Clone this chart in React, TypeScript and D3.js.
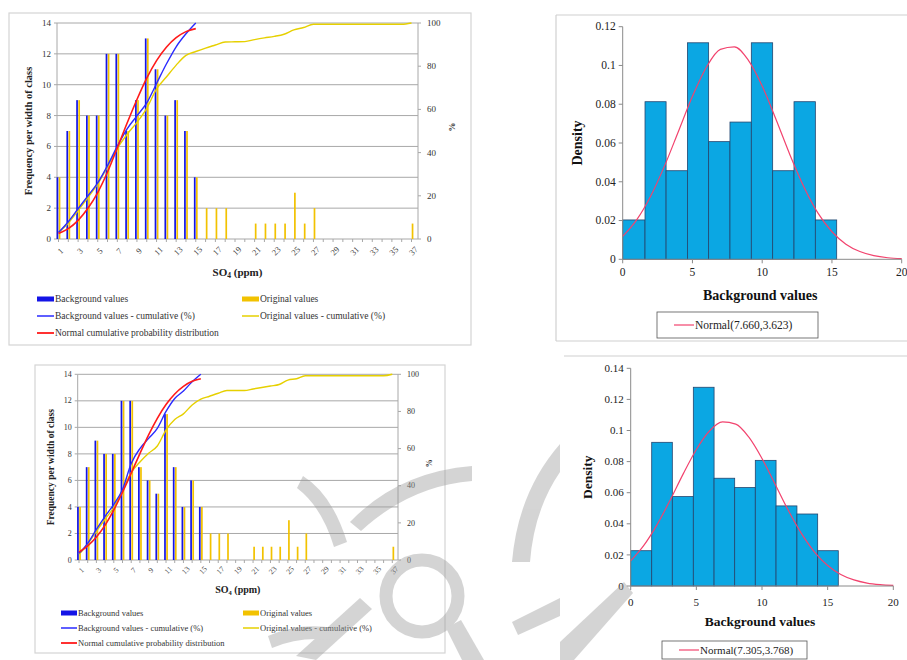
import React from "react";
import * as d3 from "d3";

// ---------- DATA ----------
const soCategories = [1,2,3,4,5,6,7,8,9,10,11,12,13,14,15,16,17,18,19,20,21,22,23,24,25,26,27,28,29,30,31,32,33,34,35,36,37];
const soTickLabels = ["1","3","5","7","9","11","13","15","17","19","21","23","25","27","29","31","33","35","37"];
const freqTicks = [0,2,4,6,8,10,12,14];
const pctTicks = [0,20,40,60,80,100];

// top combo chart
const bgCountsTop = [4,7,9,8,8,12,12,7,9,13,11,8,9,7,4];
const origCountsTop = [4,7,9,8,8,12,12,7,9,13,11,8,9,7,4,2,2,2,0,0,1,1,1,1,3,1,2,0,0,0,0,0,0,0,0,0,1];
const bgCumTop = [3,8,14,20,26,34,43,51,57,63,72,81,89,95,100];
const origCumTop = [3,7.4,13.2,19.2,25.5,33.5,42,48.5,54,60.5,69.5,75,80.5,85,86.8,88.4,89.8,91.2,91.3,91.4,92.3,93.1,93.8,94.8,96.8,97.9,99.4,99.4,99.4,99.4,99.4,99.4,99.4,99.4,99.4,99.4,100];
const normCumTop = [2.6,4.8,8.6,14.2,21.5,31,42.2,53.7,64.6,74.5,82.6,88.8,93.2,96.0,97.4];

// bottom combo chart
const bgCountsBottom = [4,7,9,8,8,12,12,7,6,5,11,7,4,6,4];
const origCountsBottom = [4,7,9,8,8,12,12,7,6,5,11,7,4,6,4,2,2,2,0,0,1,1,1,1,3,1,2,0,0,0,0,0,0,0,0,0,1];
const bgCumBottom = [3.6,9,16.5,23.5,30,38,52,60,65.5,70.9,80,87,91,96,100];
const origCumBottom = [3.1,8.5,15.5,22,28.3,37.5,47,52.8,57.5,61.4,70,75.6,78.7,83.5,86.6,88.2,89.8,91.3,91.3,91.3,92.1,92.9,93.7,94.5,96.9,97.6,99.2,99.2,99.2,99.2,99.2,99.2,99.2,99.2,99.2,99.2,100];
const normCumBottom = [4.2,7.6,12.4,18.8,27.0,36.5,46.8,57.3,67.4,76.3,83.7,89.4,93.5,96.2,97.6];

// histograms
const densityXTicks = [0,5,10,15,20];
const binEdgesTop = [0,1.6,3.11,4.64,6.16,7.69,9.22,10.75,12.28,13.81,15.34];
const densityTop = [0.0203,0.0813,0.0457,0.1117,0.0607,0.0708,0.1117,0.0457,0.0813,0.0203];
const densityTicksTop = [0,0.02,0.04,0.06,0.08,0.1,0.12];
const curveX = [0,1,2,3,4,5,6,7,8,9,10,11,12,13,14,15,16,17,18,19,20];
const normalPdfTop = [0.0118,0.0203,0.0325,0.0482,0.0661,0.0841,0.0991,0.1083,0.1096,0.1028,0.0894,0.0720,0.0537,0.0372,0.0238,0.0142,0.0078,0.0040,0.0019,0.0008,0.0003];
const binEdgesBottom = [0,1.6,3.17,4.77,6.35,7.92,9.49,11.07,12.66,14.24,15.81];
const densityBottom = [0.0227,0.0924,0.0575,0.1278,0.0693,0.0633,0.0808,0.0515,0.0463,0.0227];
const densityTicksBottom = [0,0.02,0.04,0.06,0.08,0.1,0.12,0.14];
const normalPdfBottom = [0.0162,0.0261,0.0393,0.0551,0.0721,0.0878,0.0997,0.1055,0.1041,0.0957,0.0820,0.0655,0.0487,0.0338,0.0218,0.0132,0.0074,0.0039,0.0019,0.0009,0.0004];

const SERIF = "Liberation Serif, Times New Roman, serif";
const BLUE_BAR = "#1414e6";
const GOLD_BAR = "#f2c200";
const BLUE_LINE = "#2a2aff";
const YELLOW_LINE = "#e6d000";
const RED_LINE = "#ff1a1a";
const GRID = "#a8a8a8";
const HIST_FILL = "#0ba7e3";
const HIST_EDGE = "#24456e";
const PDF_LINE = "#f2436e";

type ComboProps = {
  x0: number; x1: number; yT: number; yB: number; c1: number; c37: number;
  bg: number[]; orig: number[]; bgCum: number[]; origCum: number[]; normCum: number[];
  fs: number; titleFs: number; legendFs: number;
  yTitleX: number; pctX: number; xTitleY: number;
  legendRows: number[]; legendCol1: number; legendCol2: number; swW: number;
  frame: [number, number, number, number];
  xLabY: number;
};

function ComboPanel(p: ComboProps) {
  const x = d3.scalePoint<number>().domain(soCategories).range([p.c1, p.c37]);
  const y = d3.scaleLinear().domain([0, 14]).range([p.yB, p.yT]);
  const yp = d3.scaleLinear().domain([0, 100]).range([p.yB, p.yT]);
  const bw = 1.7;
  const line = d3.line<number>().x((_, i) => x(soCategories[i]) as number).y(d => yp(d)).curve(d3.curveMonotoneX);
  const midY = (p.yT + p.yB) / 2;
  const [fx, fy, fw, fh] = p.frame;
  return (
    <g>
      <rect x={fx} y={fy} width={fw} height={fh} fill="#fff" stroke="#d4d4d4" strokeWidth={1.2} />
      {freqTicks.map(t => (
        <g key={"g" + t}>
          <line x1={p.x0} x2={p.x1} y1={y(t)} y2={y(t)} stroke={GRID} strokeWidth={1} />
          <line x1={p.x0 - 3} x2={p.x0} y1={y(t)} y2={y(t)} stroke={GRID} />
          <text x={p.x0 - 6} y={y(t)} dy="0.33em" textAnchor="end" fontSize={p.fs} fill="#333">{t}</text>
        </g>
      ))}
      <line x1={p.x0} x2={p.x0} y1={p.yT} y2={p.yB} stroke={GRID} />
      <line x1={p.x1} x2={p.x1} y1={p.yT} y2={p.yB} stroke={GRID} />
      {pctTicks.map(t => (
        <g key={"p" + t}>
          <line x1={p.x1} x2={p.x1 + 3} y1={yp(t)} y2={yp(t)} stroke={GRID} />
          <text x={p.x1 + 9} y={yp(t)} dy="0.33em" textAnchor="start" fontSize={p.fs} fill="#333">{t}</text>
        </g>
      ))}
      {soCategories.map(c => (
        <line key={"xt" + c} x1={x(c)} x2={x(c)} y1={p.yB} y2={p.yB + 3} stroke={GRID} />
      ))}
      {p.orig.map((v, i) => v > 0 ? (
        <rect key={"o" + i} x={(x(soCategories[i]) as number) + 0.2} y={y(v)} width={bw} height={p.yB - y(v)} fill={GOLD_BAR} />
      ) : null)}
      {p.bg.map((v, i) => (
        <rect key={"b" + i} x={(x(soCategories[i]) as number) - bw - 0.2} y={y(v)} width={bw} height={p.yB - y(v)} fill={BLUE_BAR} />
      ))}
      <path d={line(p.origCum) || ""} fill="none" stroke={YELLOW_LINE} strokeWidth={1.4} />
      <path d={line(p.bgCum) || ""} fill="none" stroke={BLUE_LINE} strokeWidth={1.4} />
      <path d={line(p.normCum) || ""} fill="none" stroke={RED_LINE} strokeWidth={1.6} />
      {soTickLabels.map(l => {
        const cx = (x(+l) as number) + 4;
        return (
          <text key={"xl" + l} x={cx} y={p.xLabY} textAnchor="middle" fontSize={p.fs - 0.5} fill="#444"
            transform={`rotate(-45 ${cx} ${p.xLabY})`}>{l}</text>
        );
      })}
      <text x={p.yTitleX} y={midY} textAnchor="middle" fontSize={p.titleFs} fontWeight="bold" fill="#222"
        transform={`rotate(-90 ${p.yTitleX} ${midY})`}>Frequency per width of class</text>
      <text x={p.pctX} y={midY - 4} textAnchor="middle" fontSize={p.fs} fontWeight="bold" fill="#333"
        transform={`rotate(90 ${p.pctX} ${midY - 4})`}>%</text>
      <text x={(p.x0 + p.x1) / 2 + 0} y={p.xTitleY} textAnchor="middle" fontSize={p.titleFs + 0.5} fontWeight="bold" fill="#222">
        SO<tspan fontSize={p.titleFs - 3} dy="2">4</tspan><tspan dy="-2"> (ppm)</tspan>
      </text>
      {/* legend */}
      <rect x={p.legendCol1} y={p.legendRows[0] - 2.5} width={p.swW} height={5} fill={BLUE_BAR} />
      <text x={p.legendCol1 + p.swW + 1} y={p.legendRows[0]} dy="0.33em" fontSize={p.legendFs} fill="#333">Background values</text>
      <rect x={p.legendCol2} y={p.legendRows[0] - 2.5} width={p.swW} height={5} fill={GOLD_BAR} />
      <text x={p.legendCol2 + p.swW + 1} y={p.legendRows[0]} dy="0.33em" fontSize={p.legendFs} fill="#333">Original values</text>
      <line x1={p.legendCol1} x2={p.legendCol1 + p.swW} y1={p.legendRows[1]} y2={p.legendRows[1]} stroke={BLUE_LINE} strokeWidth={1.5} />
      <text x={p.legendCol1 + p.swW + 1} y={p.legendRows[1]} dy="0.33em" fontSize={p.legendFs} fill="#333">Background values - cumulative (%)</text>
      <line x1={p.legendCol2} x2={p.legendCol2 + p.swW} y1={p.legendRows[1]} y2={p.legendRows[1]} stroke={YELLOW_LINE} strokeWidth={1.5} />
      <text x={p.legendCol2 + p.swW + 1} y={p.legendRows[1]} dy="0.33em" fontSize={p.legendFs} fill="#333">Original values - cumulative (%)</text>
      <line x1={p.legendCol1} x2={p.legendCol1 + p.swW} y1={p.legendRows[2]} y2={p.legendRows[2]} stroke={RED_LINE} strokeWidth={1.8} />
      <text x={p.legendCol1 + p.swW + 1} y={p.legendRows[2]} dy="0.33em" fontSize={p.legendFs} fill="#333">Normal cumulative probability distribution</text>
    </g>
  );
}

type HistProps = {
  x0: number; x1: number; yT: number; yB: number; yMax: number; yTicks: number[];
  edges: number[]; dens: number[]; pdf: number[]; label: string;
  fs: number; titleFs: number; yTitleX: number; xTitleY: number; xLabY: number;
  legend: [number, number, number, number];
};

function HistPanel(p: HistProps) {
  const x = d3.scaleLinear().domain([0, 20]).range([p.x0, p.x1]);
  const y = d3.scaleLinear().domain([0, p.yMax]).range([p.yB, p.yT]);
  const line = d3.line<number>().x((_, i) => x(curveX[i])).y(d => y(d)).curve(d3.curveMonotoneX);
  const midY = (p.yT + p.yB) / 2;
  const [lx, ly, lw, lh] = p.legend;
  return (
    <g>
      {p.dens.map((d, i) => (
        <rect key={"h" + i} x={x(p.edges[i])} y={y(d)} width={x(p.edges[i + 1]) - x(p.edges[i])} height={p.yB - y(d)}
          fill={HIST_FILL} stroke={HIST_EDGE} strokeWidth={0.8} />
      ))}
      <path d={line(p.pdf) || ""} fill="none" stroke={PDF_LINE} strokeWidth={1.2} />
      <line x1={p.x0} x2={p.x0} y1={p.yT} y2={p.yB} stroke="#8a8a8a" />
      <line x1={p.x0} x2={p.x1} y1={p.yB} y2={p.yB} stroke="#8a8a8a" />
      {p.yTicks.map(t => (
        <g key={"yt" + t}>
          <line x1={p.x0 - 4} x2={p.x0} y1={y(t)} y2={y(t)} stroke="#8a8a8a" />
          <text x={p.x0 - 7} y={y(t)} dy="0.33em" textAnchor="end" fontSize={p.fs} fill="#222">{String(t)}</text>
        </g>
      ))}
      {densityXTicks.map(t => (
        <g key={"xt" + t}>
          <line x1={x(t)} x2={x(t)} y1={p.yB} y2={p.yB + 4} stroke="#8a8a8a" />
          <text x={x(t)} y={p.xLabY} dy="0.33em" textAnchor="middle" fontSize={p.fs} fill="#222">{t}</text>
        </g>
      ))}
      <text x={p.yTitleX} y={midY} textAnchor="middle" fontSize={p.titleFs} fontWeight="bold" fill="#111"
        transform={`rotate(-90 ${p.yTitleX} ${midY})`}>Density</text>
      <text x={(p.x0 + p.x1) / 2 - 2} y={p.xTitleY} dy="0.33em" textAnchor="middle" fontSize={p.titleFs} fontWeight="bold" fill="#111">Background values</text>
      <rect x={lx} y={ly} width={lw} height={lh} fill="#fff" stroke="#555" strokeWidth={0.8} />
      <line x1={lx + 17} x2={lx + 37} y1={ly + lh / 2} y2={ly + lh / 2} stroke={PDF_LINE} strokeWidth={1.2} />
      <text x={lx + 38} y={ly + lh / 2} dy="0.33em" fontSize={p.fs} fill="#222">{p.label}</text>
    </g>
  );
}

function Watermark() {
  const c = "#9a9a9a";
  return (
    <g fill={c} opacity={0.42} stroke="none">
      <path d="M303,476 Q332,494 347,542 L334,547 Q322,507 297,488 Z" />
      <path d="M350,522 Q398,472 472,466 L472,481 Q410,486 361,531 Z" />
      <path d="M512,562 Q518,492 560,444 L560,472 Q534,510 530,562 Z" />
      <circle cx={422} cy={596} r={36} fill="none" stroke={c} strokeWidth={13} />
      <path d="M296,656 L360,598 L372,609 L316,660 Z" />
      <path d="M462,660 L446,628 L461,620 L484,660 Z" />
      <path d="M560,598 L512,622 L518,635 L560,616 Z" />
      <path d="M560,642 L624,582 L633,593 L574,660 L560,660 Z" />
      <path d="M268,636 Q300,622 334,628 L332,640 Q300,636 272,648 Z" />
    </g>
  );
}

export default function App() {
  return (
    <svg width={907} height={660} viewBox="0 0 907 660" style={{ position: "absolute", left: 0, top: 0, background: "#fff" }}
      fontFamily={SERIF}>
      <rect x={0} y={0} width={907} height={660} fill="#fff" />
      <line x1={556} x2={907} y1={15} y2={15} stroke="#d0d0d0" strokeWidth={1.2} />
      <line x1={556} x2={556} y1={15} y2={341} stroke="#d0d0d0" strokeWidth={1.2} />
      <line x1={556} x2={907} y1={341} y2={341} stroke="#d0d0d0" strokeWidth={1.2} />
      <line x1={564} x2={907} y1={356} y2={356} stroke="#d0d0d0" strokeWidth={1.2} />
      <ComboPanel x0={57} x1={418} yT={23} yB={239} c1={58.5} c37={411.5}
        bg={bgCountsTop} orig={origCountsTop} bgCum={bgCumTop} origCum={origCumTop} normCum={normCumTop}
        fs={9} titleFs={10.5} legendFs={9.5} yTitleX={32} pctX={449} xTitleY={276}
        legendRows={[299, 316, 333]} legendCol1={37} legendCol2={242} swW={17}
        frame={[9, 13, 462, 332]} xLabY={253} />
      <ComboPanel x0={77.7} x1={398} yT={374.3} yB={560} c1={79} c37={392.3}
        bg={bgCountsBottom} orig={origCountsBottom} bgCum={bgCumBottom} origCum={origCumBottom} normCum={normCumBottom}
        fs={8} titleFs={9.5} legendFs={8.5} yTitleX={54} pctX={426} xTitleY={593}
        legendRows={[613, 628, 643]} legendCol1={61} legendCol2={243} swW={16}
        frame={[35, 365, 410, 288]} xLabY={572} />
      <HistPanel x0={622.7} x1={901.7} yT={26.7} yB={259.3} yMax={0.12} yTicks={densityTicksTop}
        edges={binEdgesTop} dens={densityTop} pdf={normalPdfTop} label="Normal(7.660,3.623)"
        fs={11.5} titleFs={14} yTitleX={582} xTitleY={295} xLabY={272}
        legend={[657, 312, 161, 26]} />
      <HistPanel x0={630.7} x1={893.3} yT={368.3} yB={586} yMax={0.14} yTicks={densityTicksBottom}
        edges={binEdgesBottom} dens={densityBottom} pdf={normalPdfBottom} label="Normal(7.305,3.768)"
        fs={11} titleFs={13.5} yTitleX={592} xTitleY={622} xLabY={602}
        legend={[662, 641, 145, 18]} />
      <Watermark />
    </svg>
  );
}
